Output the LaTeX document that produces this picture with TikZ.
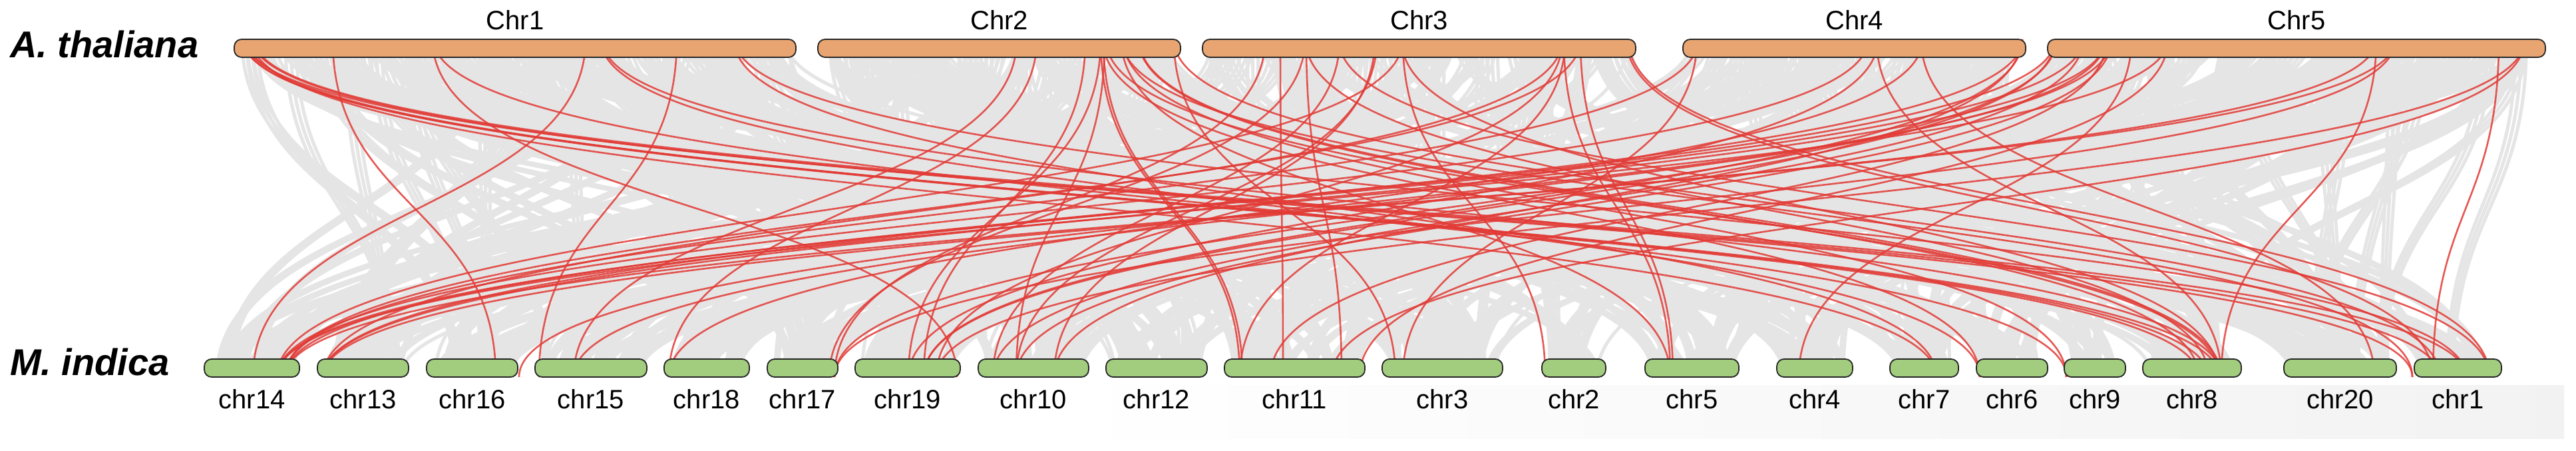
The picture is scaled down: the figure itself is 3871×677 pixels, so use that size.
\documentclass[tikz,border=0pt]{standalone}
\usepackage{fontspec}
\setmainfont{Liberation Sans}
\definecolor{chrtop}{HTML}{E8A572}
\definecolor{chrbot}{HTML}{A2CD7E}
\definecolor{synred}{HTML}{E23B36}
\definecolor{syngray}{HTML}{E5E5E5}
\begin{document}
\begin{tikzpicture}[x=1pt,y=-1pt,
  declare function={
    topx(\u)=362+\u+53*(\u>824)+53*(\u>1349)+91*(\u>1980)+53*(\u>2475);
    botx(\u)=317+\u+47*(\u>123)+47*(\u>240)+46*(\u>357)+46*(\u>505)+47*(\u>613)+46*(\u>699)+47*(\u>837)+46*(\u>983)+46*(\u>1115)+46*(\u>1306)+79*(\u>1467)+79*(\u>1543)+77*(\u>1664)+76*(\u>1758)+47*(\u>1841)+45*(\u>1928)+46*(\u>2000)+84*(\u>2128)+47*(\u>2277);
  },
  grayline/.style={draw=syngray,line width=5pt},
  synline/.style={draw=synred,line width=2.6pt,draw opacity=0.85},
  topchr/.style={draw=black!85,line width=1.8pt,fill=chrtop,rounded corners=11pt,minimum height=27pt,inner sep=0pt},
  botchr/.style={draw=black!85,line width=1.8pt,fill=chrbot,rounded corners=11pt,minimum height=27pt,inner sep=0pt},
  chrlab/.style={anchor=base,inner sep=0pt,font=\fontsize{40}{48}\selectfont},
  species/.style={anchor=base west,inner sep=0pt,font=\fontsize{56}{66}\selectfont\bfseries\itshape}
]
\useasboundingbox (0,0) rectangle (3871,677);
\fill[white] (0,0) rectangle (3871,677);
% faint shade at bottom right
\fill[left color=white,right color=black!5] (1580,578) rectangle (3853,658);

% background synteny (gray)
\pgfmathsetseed{20240}
\foreach \k in {1,...,480}{
  \pgfmathsetmacro\ut{rnd*3180}
  \pgfmathsetmacro\ub{rnd*2370}
  \foreach \j in {0,8,16}{
    \pgfmathsetmacro\xt{topx(\ut+\j)}
    \pgfmathsetmacro\xb{botx(\ub+0.6*\j)}
    \draw[grayline] (\xt,59) .. controls (\xt,312) and (\xb,312) .. (\xb,566);
  }
}

% highlighted synteny (red)
\foreach \a/\b in {
  366/3304, 366/3335, 368/3667, 372/3319, 378/2910, 380/3625, 382/3706,
  500/745, 650/1438, 652/3105, 880/380, 903/2975, 905/3338, 1017/810,
  1103/2910, 1105/3706,
  1528/862, 1558/1005, 1631/1388, 1654/1365, 1654/1863, 1658/1867,
  1657/2975, 1660/1527, 1662/3335, 1685/2510, 1686/3625, 1688/3105,
  1712/3338, 1711/3304, 1764/2097, 1764/3667,
  1901/1254, 1924/1928, 1961/1246, 1963/2016, 1962/3319, 2013/1492,
  2012/3741, 2066/1584, 2069/1527, 2108/416, 2108/2322, 2106/3335,
  2348/1407, 2348/485, 2350/2510, 2352/1863, 2375/428, 2375/2514,
  2447/3741, 2444/3656,
  2550/2108, 2552/428, 2807/416, 2820/3338, 2822/1365, 2887/3568,
  2889/1005, 3039/485, 3039/1388, 3037/1584,
  3088/428, 3090/1254, 3088/1388, 3130/416, 3130/1492, 3164/485,
  3166/1909, 3164/862, 3173/780, 3173/1527, 3203/2703, 3258/2043,
  3258/416, 3571/3338, 3571/485, 3600/428, 3600/1254, 3755/3656,
  3794/2001, 3794/1407}
  \draw[synline] (\a,59) .. controls (\a,312) and (\b,312) .. (\b,566);

% A. thaliana chromosomes
\foreach \n/\s/\e in {1/352/1196, 2/1229/1774, 3/1807/2458, 4/2529/3044, 5/3077/3825}{
  \pgfmathsetmacro\w{\e-\s}
  \node[topchr,minimum width=\w pt] (T\n) at ({(\s+\e)/2},72.5) {};
  \node[chrlab] (TL\n) at ({(\s+\e)/2},45) {Chr\n};
}

% M. indica chromosomes
\foreach \n/\s/\e in {14/307/450, 13/477/614, 16/641/778, 15/804/972, 18/998/1126,
  17/1153/1259, 19/1285/1443, 10/1470/1636, 12/1662/1814, 11/1840/2051,
  3/2077/2258, 2/2317/2413, 5/2472/2613, 4/2670/2784, 7/2840/2943,
  6/2970/3077, 9/3102/3194, 8/3220/3368, 20/3432/3601, 1/3628/3759}{
  \pgfmathsetmacro\w{\e-\s}
  \node[botchr,minimum width=\w pt] (B\n) at ({(\s+\e)/2},552.5) {};
  \node[chrlab] (BL\n) at ({(\s+\e)/2},613) {chr\n};
}

\node[species] (spA) at (15,86) {A. thaliana};
\node[species] (spM) at (15,563) {M. indica};
\end{tikzpicture}
\end{document}
